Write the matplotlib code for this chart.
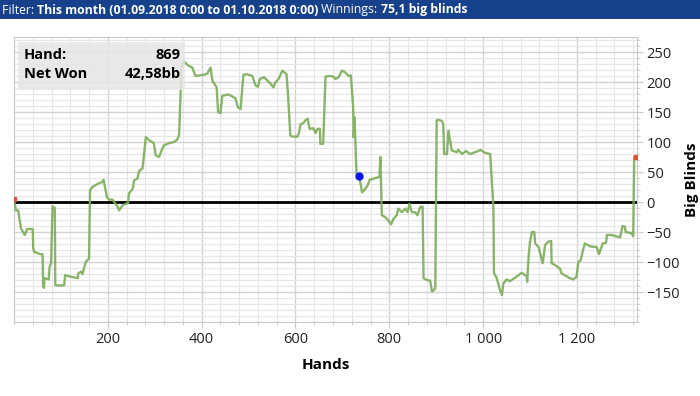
import matplotlib
matplotlib.use("Agg")
import matplotlib.pyplot as plt
from matplotlib.ticker import MultipleLocator
from matplotlib.patches import Rectangle

plt.rcParams["font.family"] = ["Open Sans", "DejaVu Sans"]

# cumulative winnings
hands = [0, 4, 9, 11, 15, 21, 23, 28, 40, 41, 43, 57, 61, 62, 64, 65, 74, 76, 79, 82, 87,
         88, 107, 109, 118, 136, 137, 143, 146, 148, 153, 160, 162, 167, 178, 187, 191, 194,
         198, 203, 210, 221, 224, 231, 238, 243, 245, 253, 256, 263, 267, 274, 281, 288, 298,
         302, 309, 319, 330, 341, 348, 352, 357, 362, 370, 380, 387, 405, 412, 419, 423, 432,
         435, 440, 444, 455, 458, 472, 477, 483, 489, 497, 508, 515, 520, 524, 533, 547, 553,
         557, 564, 572, 581, 584, 589, 593, 604, 607, 611, 616, 621, 626, 630, 638, 643, 647,
         652, 653, 659, 664, 671, 681, 685, 692, 699, 706, 713, 718, 723, 724, 726, 730, 736,
         742, 749, 754, 758, 767, 779, 781, 784, 791, 798, 804, 809, 816, 819, 827, 834, 839,
         843, 848, 855, 860, 866, 871, 873, 880, 887, 891, 896, 898, 901, 905, 912, 915, 917,
         923, 926, 933, 944, 947, 955, 964, 972, 990, 994, 1004, 1015, 1021, 1022, 1023, 1029,
         1036, 1040, 1043, 1050, 1057, 1072, 1082, 1093, 1094, 1097, 1100, 1104, 1109, 1111,
         1118, 1127, 1132, 1139, 1145, 1146, 1153, 1164, 1167, 1174, 1185, 1192, 1199, 1203,
         1208, 1213, 1217, 1228, 1242, 1247, 1250, 1255, 1262, 1264, 1274, 1292, 1297, 1302,
         1304, 1316, 1320, 1322, 1326]
big_blinds = [5, -14, -14, -25, -44, -52, -55, -45, -45, -77, -83, -87, -87, -141, -143, -127,
              -129, -108, -102, -7, -10, -139, -139, -122, -124, -127, -119, -116, -120, -114,
              -100, -94, 19, 25, 30, 33, 37, 25, 8, 4, 4, -8, -14, -6, -3, -2, 14, 22, 36, 39,
              52, 56, 108, 103, 98, 78, 75, 94, 98, 100, 104, 112, 224, 235, 228, 224, 210, 212,
              214, 224, 202, 191, 150, 148, 177, 179, 179, 173, 158, 155, 212, 213, 210, 194,
              192, 205, 208, 197, 191, 199, 205, 219, 213, 180, 111, 109, 109, 114, 130, 131,
              136, 139, 122, 123, 115, 122, 122, 97, 97, 209, 210, 209, 205, 208, 219, 216, 210,
              211, 158, 108, 141, 47, 43, 16, 22, 28, 37, 39, 42, 75, -22, -25, -31, -37, -28,
              -22, -11, -17, -11, -17, -3, -17, -17, -22, -8, -8, -127, -130, -131, -149, -146,
              -144, 136, 137, 135, 130, 80, 80, 119, 86, 83, 87, 80, 85, 80, 85, 87, 82, 80, 3,
              -14, -118, -127, -147, -155, -136, -129, -132, -124, -118, -124, -133, -91, -66,
              -50, -50, -69, -75, -102, -72, -66, -65, -102, -105, -111, -119, -122, -127, -129,
              -125, -100, -97, -80, -69, -74, -75, -87, -80, -69, -68, -55, -55, -59, -40, -41,
              -50, -52, -57, 75, 75]

x_ticks = [200, 400, 600, 800, 1000, 1200]
x_labels = ["200", "400", "600", "800", "1 000", "1 200"]
y_ticks = [-150, -100, -50, 0, 50, 100, 150, 200, 250]

sel_hand = 736
sel_bb = 42.58

fig = plt.figure(figsize=(7, 3.96), dpi=100)
fig.patch.set_facecolor("white")
ax = fig.add_axes([14 / 700, 1 - 322 / 396, 623 / 700, 285 / 396])

ax.set_xlim(0, 1328)
ax.set_ylim(-200, 275)

ax.set_xticks(x_ticks)
ax.set_xticklabels(x_labels)
ax.xaxis.set_minor_locator(MultipleLocator(40))
ax.set_yticks(y_ticks)
ax.yaxis.set_minor_locator(MultipleLocator(10))
ax.yaxis.tick_right()
ax.yaxis.set_label_position("right")

ax.grid(which="major", color="#d2d2d2", linewidth=1.0)
ax.grid(which="minor", color="#e6e6e6", linewidth=0.8)
ax.set_axisbelow(True)
for s in ax.spines.values():
    s.set_color("#c8c8c8")
ax.tick_params(which="major", length=4, color="#c8c8c8", labelsize=10.5, labelcolor="#222222", pad=3)
ax.tick_params(which="minor", length=2.5, color="#c8c8c8")

ax.axhline(0, color="black", linewidth=2, zorder=3)
ax.plot(hands, big_blinds, color="#7dac5a", linewidth=1.7, alpha=0.9, zorder=4)
ax.plot(hands[0], big_blinds[0], marker="s", markersize=2.5, color="#e0503a", zorder=5)
ax.plot(hands[-1], big_blinds[-1], marker="s", markersize=2.5, color="#e0503a", zorder=5)
ax.plot(sel_hand, sel_bb, "o", color="#0a14f0", markersize=5, zorder=6)

ax.set_xlabel("Hands", fontsize=11, fontweight="bold", labelpad=8)
ax.set_ylabel("Big Blinds", fontsize=11, fontweight="bold", labelpad=3)

# info box
box = Rectangle((18, 396 - 90), 167, 48, transform=None, facecolor="#e6e6e6",
                edgecolor="none", alpha=0.85, zorder=7)
fig.patches.append(box)
fig.text(24 / 700, 1 - 55 / 396, "Hand:", fontsize=10.5, fontweight="bold", va="center", zorder=8)
fig.text(181 / 700, 1 - 55 / 396, "869", fontsize=10.5, fontweight="bold", va="center", ha="right", zorder=8)
fig.text(24 / 700, 1 - 74 / 396, "Net Won", fontsize=10.5, fontweight="bold", va="center", zorder=8)
fig.text(181 / 700, 1 - 74 / 396, "42,58bb", fontsize=10.5, fontweight="bold", va="center", ha="right", zorder=8)

# header bar
fig.patches.append(Rectangle((0, 1 - 19 / 396), 1, 19 / 396, transform=fig.transFigure,
                             facecolor="#17418a", edgecolor="none", zorder=-1))
t = fig.text(2 / 700, 1 - 10 / 396, "Filter: ", color="white", fontsize=8.8, va="center")
parts = [("This month (01.09.2018 0:00 to 01.10.2018 0:00)", "bold"), (" Winnings: ", "normal"),
         ("75,1 big blinds", "bold")]
for txt, w in parts:
    t = ax.annotate(txt, xy=(1, 0), xycoords=t, va="bottom", ha="left", color="white",
                    fontsize=8.8, fontweight=w, annotation_clip=False)

fig.savefig("out.png", dpi=100)
